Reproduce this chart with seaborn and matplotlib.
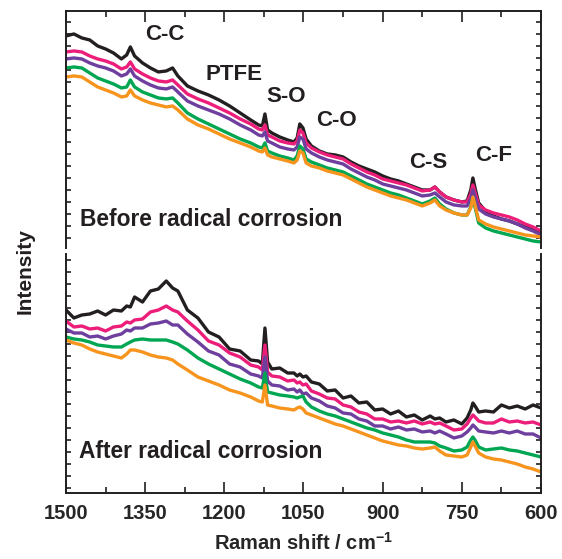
import pandas as pd
import matplotlib
matplotlib.use("Agg")
import matplotlib.pyplot as plt
import seaborn as sns
from matplotlib.ticker import MultipleLocator

# Raman shift (cm-1), shared by both panels
shift = [1500, 1485, 1470, 1455, 1440, 1425, 1410, 1395, 1385, 1378,
         1370, 1355, 1340, 1325, 1310, 1298, 1288, 1270, 1250, 1230,
         1210, 1190, 1170, 1150, 1135, 1128, 1123, 1118, 1110, 1095,
         1080, 1068, 1062, 1057, 1051, 1045, 1035, 1020, 1005, 990,
         975, 960, 945, 930, 915, 900, 885, 870, 855, 840,
         825, 810, 801, 792, 780, 765, 750, 740, 733, 729,
         725, 718, 705, 690, 675, 660, 645, 630, 615, 600]

# Before radical corrosion (arb. units, stacked)
before_black = [214, 216, 212, 210, 204, 201, 197, 191, 195, 203, 194, 187, 182, 178, 179, 182, 174, 164, 159, 155,
                150, 144, 137, 130, 125, 124, 136, 120, 117, 113, 110, 108, 112, 126, 122, 111, 104, 99, 96, 95,
                93, 88, 84, 81, 78, 74, 71, 69, 66, 63, 60, 60, 63, 58, 53, 50, 48, 49, 60, 72,
                62, 47, 39, 34, 31, 29, 26, 23, 20, 17]
before_pink = [198, 199, 198, 194, 191, 189, 186, 181, 183, 188, 181, 176, 172, 169, 168, 170, 165, 156, 151, 147,
               142, 137, 131, 126, 121, 120, 125, 115, 113, 109, 107, 106, 109, 120, 117, 107, 102, 98, 95, 93,
               91, 86, 82, 78, 75, 71, 69, 67, 65, 62, 59, 60, 63, 58, 53, 50, 48, 48, 56, 65,
               58, 45, 40, 37, 35, 33, 30, 26, 23, 19]
before_purple = [191, 192, 191, 187, 184, 182, 179, 174, 176, 181, 174, 169, 165, 162, 161, 163, 158, 149, 144, 140,
                 136, 131, 125, 120, 115, 114, 118, 109, 107, 103, 101, 100, 103, 113, 111, 101, 97, 93, 90, 88,
                 86, 81, 77, 73, 70, 66, 64, 62, 60, 57, 54, 55, 57, 53, 48, 45, 44, 44, 51, 60,
                 53, 41, 36, 33, 31, 29, 26, 22, 19, 15]
before_green = [182, 183, 182, 177, 172, 169, 166, 162, 163, 170, 163, 158, 155, 152, 151, 152, 147, 137, 131, 126,
                121, 116, 111, 107, 103, 102, 107, 99, 97, 94, 92, 90, 94, 104, 101, 91, 88, 85, 82, 80,
                78, 74, 70, 66, 63, 60, 57, 55, 52, 49, 46, 49, 52, 46, 41, 37, 35, 35, 43, 52,
                43, 27, 22, 19, 17, 15, 13, 11, 9, 8]
before_orange = [173, 174, 173, 168, 163, 160, 157, 153, 154, 160, 154, 150, 147, 145, 143, 144, 140, 131, 125, 121,
                 116, 111, 107, 103, 99, 98, 102, 95, 93, 91, 89, 87, 90, 99, 97, 87, 84, 82, 79, 77,
                 75, 71, 67, 63, 60, 57, 54, 52, 50, 47, 44, 47, 50, 44, 40, 37, 35, 35, 42, 53,
                 45, 30, 26, 23, 21, 19, 17, 15, 14, 13]

# After radical corrosion
after_black = [190, 182, 185, 186, 189, 185, 190, 189, 194, 193, 203, 198, 209, 211, 219, 212, 209, 190, 182, 168,
               163, 151, 149, 140, 139, 136, 172, 138, 131, 132, 127, 127, 124, 126, 123, 124, 118, 116, 109, 110,
               102, 104, 97, 98, 90, 91, 86, 89, 83, 85, 80, 84, 81, 82, 78, 80, 76, 82, 90, 97,
               94, 88, 89, 88, 95, 92, 94, 91, 95, 92]
after_pink = [179, 173, 174, 171, 172, 169, 173, 174, 178, 177, 180, 181, 188, 190, 194, 190, 188, 179, 170, 159,
              155, 147, 143, 135, 133, 130, 155, 128, 124, 123, 119, 120, 117, 118, 115, 116, 109, 106, 102, 101,
              95, 93, 88, 86, 81, 81, 78, 79, 77, 79, 76, 78, 76, 77, 74, 70, 71, 76, 82, 85,
              83, 79, 77, 77, 81, 78, 79, 77, 78, 75]
after_purple = [171, 167, 167, 163, 164, 161, 164, 166, 170, 169, 172, 172, 176, 177, 179, 175, 175, 166, 158, 149,
                145, 136, 133, 126, 124, 122, 143, 119, 115, 114, 110, 111, 108, 110, 106, 107, 102, 99, 94, 92,
                87, 86, 81, 79, 74, 74, 71, 73, 70, 71, 68, 69, 67, 69, 66, 62, 64, 68, 72, 75,
                73, 69, 68, 67, 69, 67, 69, 66, 66, 62]
after_green = [163, 161, 160, 158, 155, 154, 153, 153, 156, 158, 160, 161, 160, 160, 160, 158, 156, 150, 142, 136,
               131, 126, 121, 117, 113, 112, 127, 108, 107, 105, 104, 103, 102, 103, 104, 98, 93, 89, 86, 84,
               81, 78, 75, 72, 70, 67, 65, 63, 60, 58, 58, 58, 57, 54, 52, 49, 50, 53, 60, 63,
               60, 53, 50, 51, 52, 50, 49, 47, 45, 43]
after_orange = [160, 157, 155, 151, 148, 146, 144, 142, 146, 150, 150, 148, 145, 143, 142, 140, 136, 130, 123, 119,
                115, 110, 107, 103, 99, 98, 115, 95, 94, 92, 91, 90, 92, 93, 91, 87, 85, 82, 79, 76,
                74, 71, 68, 65, 62, 59, 57, 55, 54, 52, 51, 52, 53, 49, 45, 44, 43, 45, 53, 58,
                54, 47, 43, 41, 40, 38, 36, 33, 31, 28]

series = ["s1", "s2", "s3", "s4", "s5"]
colors = ["#231f20", "#ec1e7a", "#6e3f9e", "#00a651", "#f7941d"]

peak_labels = ["C-C", "PTFE", "S-O", "C-O", "C-S", "C-F"]
peak_x = [1312, 1182, 1083, 988, 814, 689]
peak_y = [215, 175, 153, 129, 87, 94]


def to_long(curves):
    frames = []
    for name, vals in zip(series, curves):
        frames.append(pd.DataFrame({"shift": shift, "intensity": vals, "sample": name}))
    return pd.concat(frames, ignore_index=True)


df_before = to_long([before_black, before_pink, before_purple, before_green, before_orange])
df_after = to_long([after_black, after_pink, after_purple, after_green, after_orange])

sns.set_style("ticks")
plt.rcParams["font.family"] = ["Liberation Sans", "DejaVu Sans"]
plt.rcParams["font.weight"] = "bold"
plt.rcParams["mathtext.fontset"] = "custom"
plt.rcParams["mathtext.rm"] = "Liberation Sans:bold"
plt.rcParams["mathtext.bf"] = "Liberation Sans:bold"
plt.rcParams["mathtext.default"] = "bf"

fig = plt.figure(figsize=(5.62, 5.59), dpi=100)
ax1 = fig.add_axes([0.1174, 0.5564, 0.8452, 0.424])
ax2 = fig.add_axes([0.1174, 0.1181, 0.8452, 0.4275])

for ax, data in [(ax1, df_before), (ax2, df_after)]:
    sns.lineplot(data=data, x="shift", y="intensity", hue="sample", palette=colors,
                 sort=False, lw=2.4, legend=False, ax=ax)
    ax.set_xlim(1500, 600)
    ax.xaxis.set_major_locator(MultipleLocator(150))
    ax.xaxis.set_minor_locator(MultipleLocator(75))
    ax.yaxis.set_major_locator(MultipleLocator(12))
    ax.tick_params(axis="both", which="both", direction="in", width=1.2, color="#231f20")
    ax.tick_params(axis="x", which="major", length=8)
    ax.tick_params(axis="x", which="minor", length=4.5)
    ax.tick_params(axis="y", which="major", length=3.5, left=True, right=True, labelleft=False)
    ax.set_ylabel("")
    for sp in ax.spines.values():
        sp.set_linewidth(1.4)
        sp.set_color("#231f20")

ax1.set_ylim(2, 239)
ax2.set_ylim(7, 246)

ax1.spines["bottom"].set_visible(False)
ax1.tick_params(axis="x", which="both", bottom=False, top=True, labelbottom=False)
ax1.set_xlabel("")
ax2.spines["top"].set_visible(False)
ax2.tick_params(axis="x", which="both", top=False, labelsize=14.5, pad=8)
ax2.set_xticklabels([str(int(t)) for t in ax2.get_xticks()], fontweight="bold")
ax2.set_xlim(1500, 600)
ax2.set_xlabel("Raman shift / cm$^{-1}$", fontsize=14.5, fontweight="bold", labelpad=6)

for lab, px, py in zip(peak_labels, peak_x, peak_y):
    ax1.text(px, py, lab, ha="center", va="center", fontsize=16, fontweight="bold", color="#231f20")

ax1.text(1473, 30, "Before radical corrosion", ha="left", va="center",
         fontsize=16.4, fontweight="bold", color="#231f20")
ax2.text(1475, 48, "After radical corrosion", ha="left", va="center",
         fontsize=16.4, fontweight="bold", color="#231f20")

fig.text(0.045, 0.515, "Intensity", rotation=90, ha="center", va="center",
         fontsize=15, fontweight="bold", color="#231f20")

fig.savefig("out.png", dpi=100)
